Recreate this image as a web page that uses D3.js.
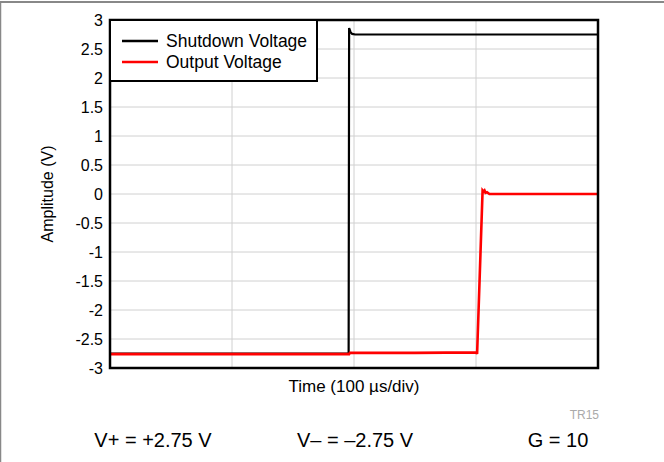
<!DOCTYPE html>
<html>
<head>
<meta charset="utf-8">
<script src="https://cdn.jsdelivr.net/npm/d3@7"></script>
<style>
  body { margin: 0; background: #fff; }
  svg { font-family: "Liberation Sans", Arial, sans-serif; }
</style>
</head>
<body>
<div class="graph"><svg width="664" height="462"></svg></div>
<script>
// time in us, amplitude in V
const shutdownTime = [0, 195.6, 196, 196.4, 197.2, 198.5, 201, 210, 250, 300, 350, 400]
const shutdownVolt = [-2.75, -2.75, 2.86, 2.84, 2.79, 2.76, 2.75, 2.75, 2.75, 2.75, 2.75, 2.75]
const outputTime = [0, 100, 196, 196.6, 250, 300.5, 300.9, 305.4, 306.2, 307, 307.8, 309, 311, 350, 400]
const outputVolt = [-2.76, -2.76, -2.76, -2.74, -2.74, -2.73, -2.76, 0.06, 0.04, 0.06, 0.02, 0.03, 0.0, 0.0, 0.0]
const yTicks = [3, 2.5, 2, 1.5, 1, 0.5, 0, -0.5, -1, -1.5, -2, -2.5, -3]
const xTicks = [0, 100, 200, 300, 400]
const legendNames = ['Shutdown Voltage', 'Output Voltage']
const seriesColors = ['#000000', '#ff0000']
const footer = ['V+ = +2.75 V', 'V\u2013 = \u20132.75 V', 'G = 10']

const margin = { left: 110, top: 20 }
const graphSize = { width: 488, height: 348 }

const svg = d3.select('.graph').select('svg')

// outer frame lines (top and left only)
svg.append('line').attr('x1', 0).attr('x2', 664).attr('y1', 2).attr('y2', 2)
  .attr('stroke', '#888').attr('stroke-width', 2)
svg.append('line').attr('x1', 0.5).attr('x2', 0.5).attr('y1', 2).attr('y2', 462)
  .attr('stroke', '#888').attr('stroke-width', 1.5)

const g = svg.append('g')
  .attr('transform', 'translate(' + margin.left + ',' + margin.top + ')')

const x = d3.scaleLinear().domain([0, 400]).range([0, graphSize.width])
const y = d3.scaleLinear().domain([-3, 3]).range([graphSize.height, 0])

// grid
g.append('g').selectAll('line').data(yTicks).join('line')
  .attr('x1', 0).attr('x2', graphSize.width)
  .attr('y1', d => y(d)).attr('y2', d => y(d))
  .attr('stroke', '#d0d0d0').attr('stroke-width', 1)
g.append('g').selectAll('line').data(xTicks).join('line')
  .attr('x1', d => x(d)).attr('x2', d => x(d))
  .attr('y1', 0).attr('y2', graphSize.height)
  .attr('stroke', '#d0d0d0').attr('stroke-width', 1)

// y axis labels
const yAxis = g.append('g')
  .call(d3.axisLeft(y).tickValues(yTicks).tickSize(0).tickPadding(7).tickFormat(d => d))
yAxis.select('.domain').remove()
yAxis.selectAll('text')
  .attr('font-size', '16px')
  .attr('fill', '#000')
  .attr('font-family', '"Liberation Sans", Arial, sans-serif')

// series
const line = d3.line().x(d => x(d[0])).y(d => y(d[1]))
g.append('path')
  .datum(d3.zip(shutdownTime, shutdownVolt))
  .attr('d', line)
  .attr('fill', 'none')
  .attr('stroke', seriesColors[0])
  .attr('stroke-width', 2.2)
g.append('path')
  .datum(d3.zip(outputTime, outputVolt))
  .attr('d', line)
  .attr('fill', 'none')
  .attr('stroke', seriesColors[1])
  .attr('stroke-width', 2.6)

// plot border
g.append('rect')
  .attr('width', graphSize.width).attr('height', graphSize.height)
  .attr('fill', 'none').attr('stroke', '#000').attr('stroke-width', 2.5)

// legend
const legend = g.append('g')
legend.append('rect')
  .attr('width', 207).attr('height', 61)
  .attr('fill', '#fff').attr('stroke', '#000').attr('stroke-width', 2)
legendNames.forEach((name, i) => {
  legend.append('line')
    .attr('x1', 12).attr('x2', 48)
    .attr('y1', 21 + i * 21).attr('y2', 21 + i * 21)
    .attr('stroke', seriesColors[i]).attr('stroke-width', 2.5)
  legend.append('text')
    .attr('x', 56).attr('y', 21 + i * 21)
    .attr('dominant-baseline', 'central')
    .attr('font-size', '17.5px')
    .text(name)
})

// axis titles
g.append('text')
  .attr('x', graphSize.width / 2).attr('y', graphSize.height + 24)
  .attr('text-anchor', 'middle')
  .attr('font-size', '17px')
  .text('Time (100 \u00b5s/div)')
g.append('text')
  .attr('transform', 'translate(-57,' + (graphSize.height / 2) + ') rotate(-90)')
  .attr('text-anchor', 'middle')
  .attr('font-size', '16px')
  .text('Amplitude (V)')

svg.append('text')
  .attr('x', 599).attr('y', 419)
  .attr('text-anchor', 'end')
  .attr('font-size', '12px')
  .attr('fill', '#aaa')
  .text('TR15')

const footX = [153, 355, 558]
footer.forEach((t, i) => {
  svg.append('text')
    .attr('x', footX[i]).attr('y', 447)
    .attr('text-anchor', 'middle')
    .attr('font-size', '20px')
    .text(t)
})
</script>
</body>
</html>
